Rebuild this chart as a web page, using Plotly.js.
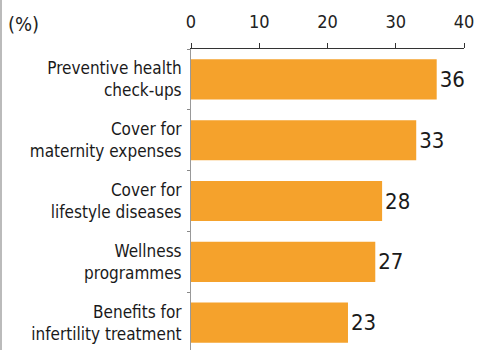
<!DOCTYPE html>
<html>
<head>
<meta charset="utf-8">
<script src="https://cdn.plot.ly/plotly-3.0.1.min.js"></script>
<style>html,body{margin:0;padding:0;background:#fff;}#chart{width:477px;height:350px;}</style>
</head>
<body>
<div id="chart"></div>
<script>
const categories = [
  "Preventive health<br>check-ups",
  "Cover for<br>maternity expenses",
  "Cover for<br>lifestyle diseases",
  "Wellness<br>programmes",
  "Benefits for<br>infertility treatment"
];
const values = [36, 33, 28, 27, 23];
const tickVals = [0, 10, 20, 30, 40];
const tickText = ["0", "10", "20", "30", "40"];
const unitLabel = "(%)";

const FONT = "'DejaVu Sans Condensed', 'Liberation Sans Narrow', 'Roboto', sans-serif";

const trace = {
  type: "bar",
  orientation: "h",
  x: values,
  y: categories,
  marker: {color: "#f5a22c", line: {width: 0}},
  text: values.map(String),
  textposition: "outside",
  textfont: {family: FONT, size: 22, color: "#1a1a1a"},
  cliponaxis: false,
  hoverinfo: "none"
};

const layout = {
  width: 477,
  height: 350,
  margin: {l: 191, r: 13, t: 49, b: 0, pad: 0},
  paper_bgcolor: "#ffffff",
  plot_bgcolor: "#ffffff",
  showlegend: false,
  bargap: 0.34,
  font: {family: FONT, color: "#222"},
  xaxis: {
    side: "top",
    range: [0, 40],
    tickvals: tickVals,
    ticktext: tickText,
    ticks: "outside",
    ticklen: 5,
    tickwidth: 1,
    tickcolor: "#333",
    showline: true,
    linecolor: "#333",
    linewidth: 1,
    showgrid: false,
    zeroline: false,
    tickfont: {family: FONT, size: 18, color: "#222"},
    ticklabelstandoff: 8,
    fixedrange: true
  },
  yaxis: {
    type: "category",
    range: [4.45, -0.5],
    ticks: "outside",
    tickson: "boundaries",
    ticklen: 3,
    tickcolor: "#888",
    showline: true,
    linecolor: "#999",
    linewidth: 1,
    showgrid: false,
    zeroline: false,
    tickfont: {family: FONT, size: 17, color: "#1a1a1a"},
    ticklabelstandoff: 5,
    automargin: false,
    fixedrange: true
  },
  annotations: [{
    text: unitLabel,
    xref: "paper", yref: "paper",
    x: -185/273, y: 1 + 25/301,
    xanchor: "left", yanchor: "middle",
    showarrow: false,
    font: {family: FONT, size: 20, color: "#222"}
  }],
  shapes: [{
    type: "line", xref: "paper", yref: "paper",
    x0: -190/273, x1: -190/273, y0: -0.1, y1: 1.2,
    line: {color: "#bbb", width: 2}
  }]
};

Plotly.newPlot("chart", [trace], layout, {displayModeBar: false, staticPlot: true});
</script>
</body>
</html>
